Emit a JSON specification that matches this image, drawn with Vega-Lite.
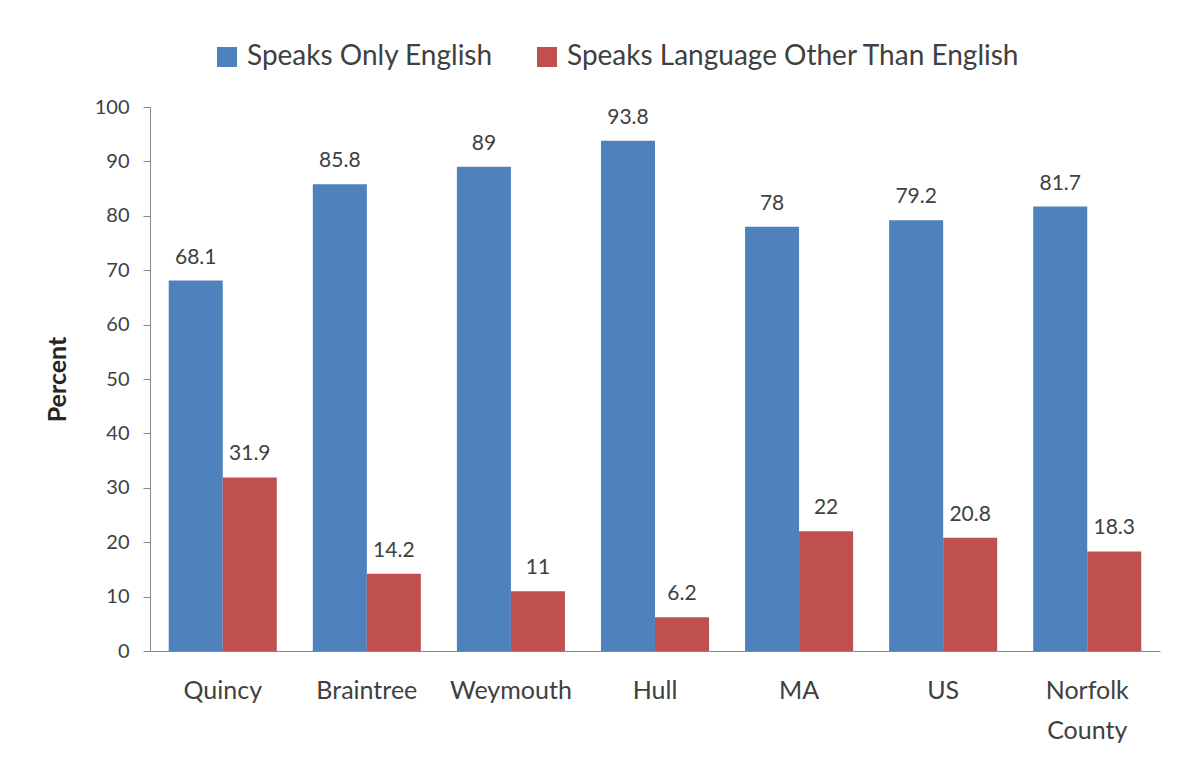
{
  "$schema": "https://vega.github.io/schema/vega-lite/v6.json",
  "autosize": {"type": "none"},
  "width": 1010,
  "height": 544,
  "padding": {"left": 150, "top": 107, "right": 23, "bottom": 113},
  "background": "white",
  "config": {
    "font": "Lato",
    "view": {"stroke": null},
    "axis": {"labelColor": "#404040", "titleColor": "#262626", "domainColor": "#868686", "tickColor": "#868686"}
  },
  "data": {
    "values": [
      {"place": "Quincy", "group": "Speaks Only English", "pct": 68.1},
      {"place": "Quincy", "group": "Speaks Language Other Than English", "pct": 31.9},
      {"place": "Braintree", "group": "Speaks Only English", "pct": 85.8},
      {"place": "Braintree", "group": "Speaks Language Other Than English", "pct": 14.2},
      {"place": "Weymouth", "group": "Speaks Only English", "pct": 89},
      {"place": "Weymouth", "group": "Speaks Language Other Than English", "pct": 11},
      {"place": "Hull", "group": "Speaks Only English", "pct": 93.8},
      {"place": "Hull", "group": "Speaks Language Other Than English", "pct": 6.2},
      {"place": "MA", "group": "Speaks Only English", "pct": 78},
      {"place": "MA", "group": "Speaks Language Other Than English", "pct": 22},
      {"place": "US", "group": "Speaks Only English", "pct": 79.2},
      {"place": "US", "group": "Speaks Language Other Than English", "pct": 20.8},
      {"place": "Norfolk County", "group": "Speaks Only English", "pct": 81.7},
      {"place": "Norfolk County", "group": "Speaks Language Other Than English", "pct": 18.3}
    ]
  },
  "encoding": {
    "x": {
      "field": "place", "type": "nominal", "sort": null,
      "scale": {"paddingInner": 0.25, "paddingOuter": 0.13},
      "axis": {
        "title": null, "ticks": false, "labelAngle": 0, "labelFontSize": 25, "labelPadding": 27,
        "labelBaseline": "top", "labelLineHeight": 40, "labelLimit": 300,
        "labelExpr": "datum.value == 'Norfolk County' ? ['Norfolk', 'County'] : datum.label"
      }
    },
    "xOffset": {
      "field": "group", "type": "nominal",
      "sort": ["Speaks Only English", "Speaks Language Other Than English"]
    },
    "y": {
      "field": "pct", "type": "quantitative",
      "scale": {"domain": [0, 100]},
      "axis": {
        "title": "Percent", "titleFontSize": 25, "titleFontWeight": "bold", "titlePadding": 24,
        "values": [0, 10, 20, 30, 40, 50, 60, 70, 80, 90, 100],
        "grid": false, "tickSize": 7, "labelFontSize": 20, "labelPadding": 14
      }
    }
  },
  "layer": [
    {
      "mark": {"type": "bar"},
      "encoding": {
        "color": {
          "field": "group", "type": "nominal",
          "sort": ["Speaks Only English", "Speaks Language Other Than English"],
          "scale": {"domain": ["Speaks Only English", "Speaks Language Other Than English"], "range": ["#4F81BD", "#C0504D"]},
          "legend": {
            "title": null, "orient": "none", "direction": "horizontal",
            "legendX": 63, "legendY": -64,
            "symbolType": "square", "symbolSize": 400, "symbolStrokeWidth": 0,
            "labelFontSize": 28, "labelColor": "#404040", "columnPadding": 40, "labelOffset": 6,
            "labelLimit": 700
          }
        }
      }
    },
    {
      "mark": {"type": "text", "baseline": "alphabetic", "dy": -17, "fontSize": 21, "color": "#404040"},
      "encoding": {"text": {"field": "pct", "type": "quantitative"}}
    }
  ]
}
